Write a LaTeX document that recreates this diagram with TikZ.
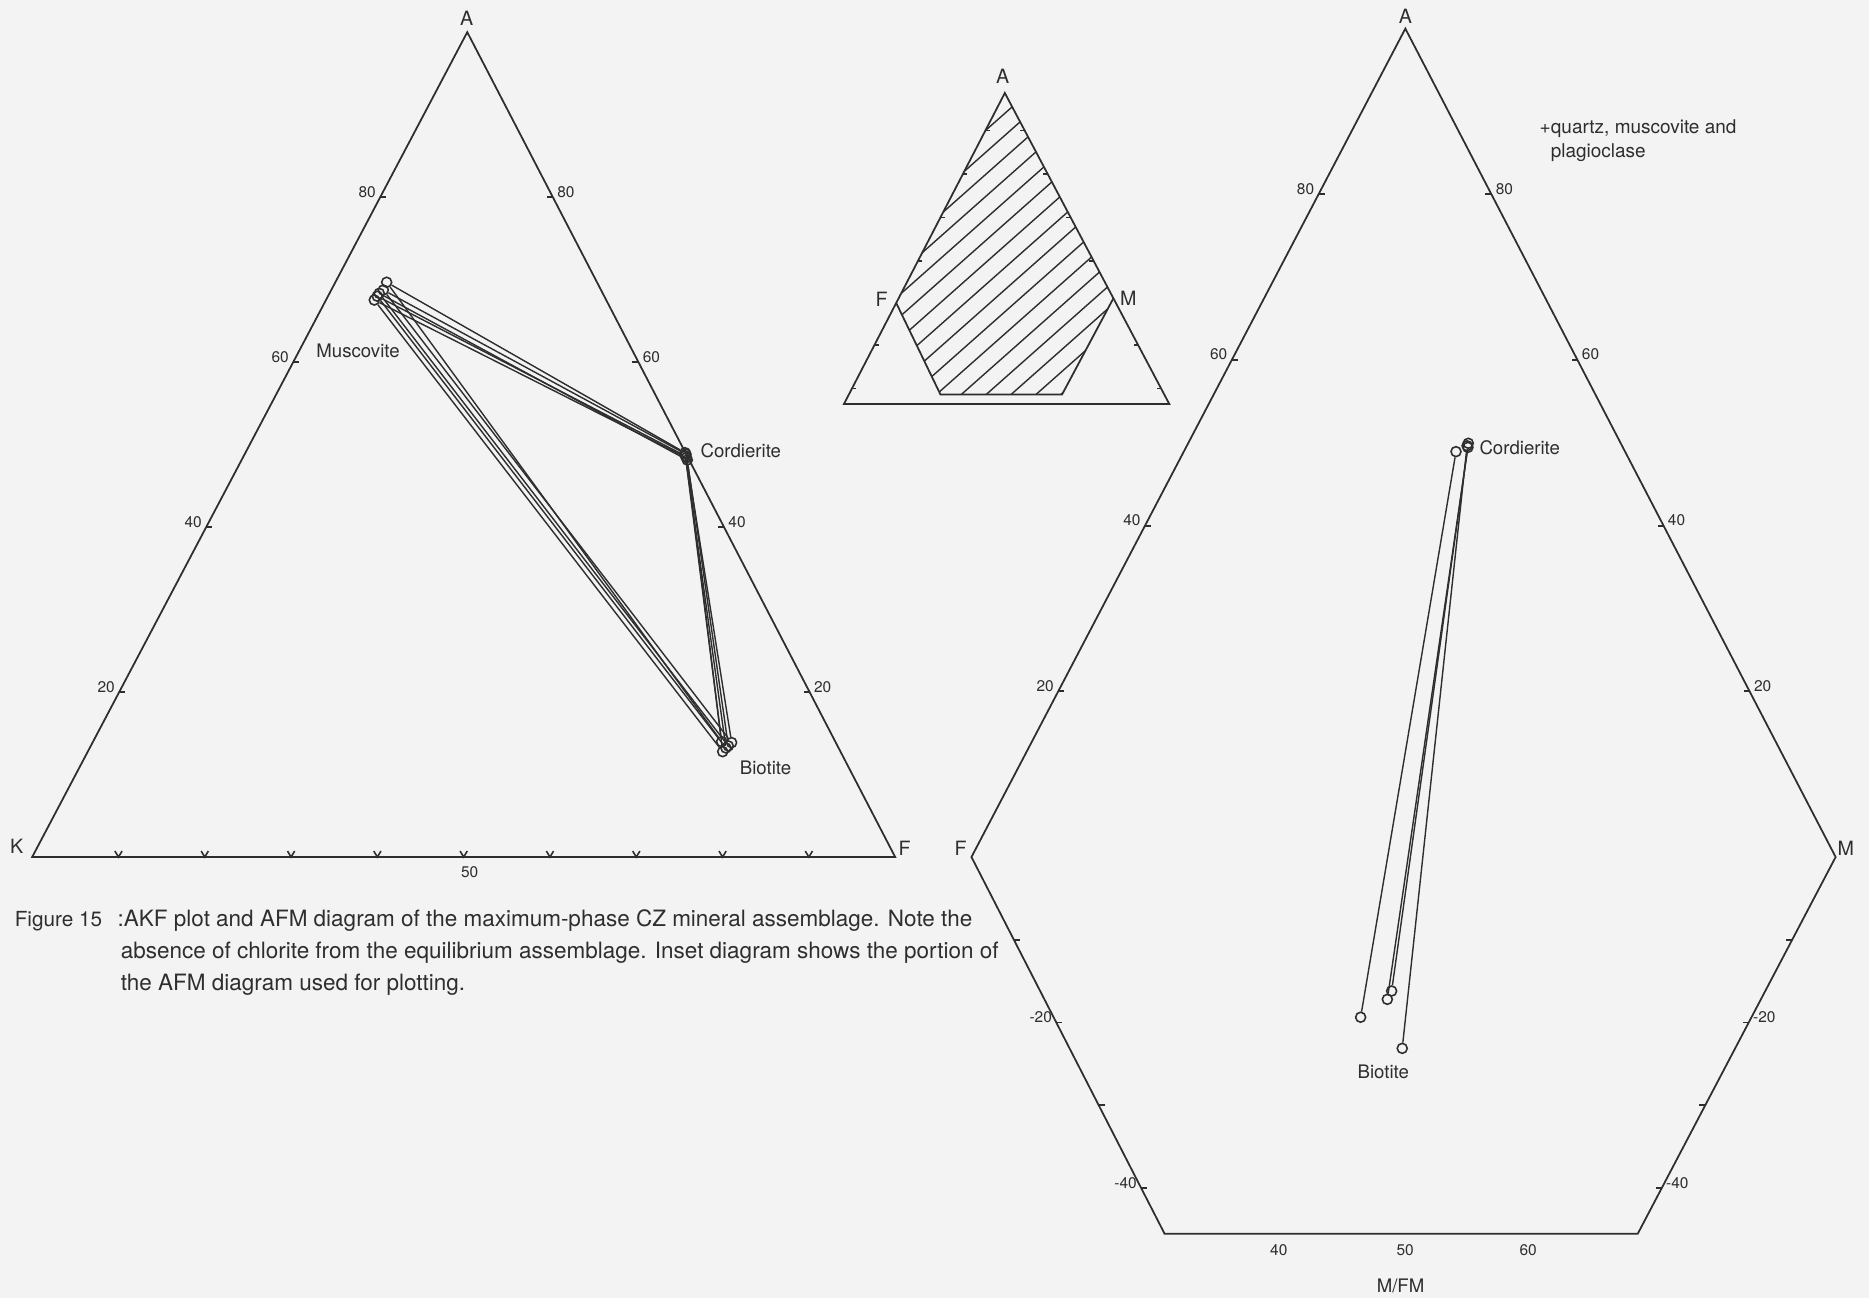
\documentclass[tikz,border=0pt]{standalone}
\usepackage{fontspec}
\setmainfont{TeX Gyre Heros}
\usetikzlibrary{calc}
\definecolor{scangrey}{HTML}{F3F3F3}
\definecolor{inkgrey}{HTML}{2E2E2E}

\begin{document}
\begin{tikzpicture}[x=0.1192mm, y=-0.1192mm, color=inkgrey, line width=.5pt,
          vtx/.style={font=\fontsize{5.6}{6}\selectfont, inner sep=0pt},
          num/.style={font=\fontsize{4.4}{5}\selectfont, inner sep=0pt},
          mineral/.style={font=\fontsize{5.3}{6}\selectfont, inner sep=0pt},
          capline/.style={font=\fontsize{6.4}{9}\selectfont, inner sep=0pt, anchor=base west},
          pt/.style={circle, draw, inner sep=0pt, minimum size=1mm, line width=.45pt},
          tie/.style={line width=.4pt}]
  \path[use as bounding box, fill=scangrey] (0,0) rectangle (1568,1089);

  \coordinate (kA) at (392,27);
  \coordinate (kK) at (27,719);
  \coordinate (kF) at (751,719);
  \draw (kA) -- (kK) -- (kF) -- cycle;
  \node[vtx] (kAl) at (391.5,15) {A};
  \node[vtx] (kKl) at (14,710) {K};
  \node[vtx] (kFl) at (759,712) {F};
  \node[num] (kmid) at (394,732) {50};
  \foreach \t in {20,40,60,80} {
    \draw ($(kK)!\t/100!(kA)$) coordinate (kl\t) -- ++(5,0);
    \node[num, anchor=base east] at ($(kl\t)+(-3,0)$) {\t};
    \draw ($(kF)!\t/100!(kA)$) coordinate (kr\t) -- ++(-5,0);
    \node[num, anchor=base west] at ($(kr\t)+(3,0)$) {\t};
  }
  \foreach \i in {1,...,9}
    \draw[line width=.45pt] ($(kK)!\i/10!(kF)$) ++(-3,-5) -- ++(3,5) -- ++(3,-5);

  \foreach \mx/\my/\cx/\cy/\bx/\by [count=\i] in
      {324.4/236.8/574.7/379.8/605.4/622.2, 321.6/243.3/575.5/381/613.8/623,
       318.2/246.1/576.6/385.9/611/625.8, 314/251.7/576/384/606.3/630.6,
       316.5/248.5/575/382.5/609/627.5} {
    \node[pt] (mu\i) at (\mx,\my) {};
    \node[pt] (cd\i) at (\cx,\cy) {};
    \node[pt] (bt\i) at (\bx,\by) {};
    \draw[tie] (mu\i) -- (cd\i) -- (bt\i) -- (mu\i);
  }
  \node[mineral, anchor=east] (mus) at (336,294) {Muscovite};
  \node[mineral, anchor=west] (crd) at (587,378.5) {Cordierite};
  \node[mineral, anchor=west] (bio) at (620,644.5) {Biotite};

  \coordinate (iA) at (843,78);
  \coordinate (iL) at (708,339);
  \coordinate (iR) at (981,339);
  \coordinate (iF) at ($(iL)!0.325!(iA)$);
  \coordinate (iM) at ($(iR)!0.34!(iA)$);
  \coordinate (iB1) at (789,331);
  \coordinate (iB2) at (891,331);
  \begin{scope}
    \clip (iA) -- (iF) -- (iB1) -- (iB2) -- (iM) -- cycle;
    \foreach \c in {842,860.5,...,1120}
      \draw[tie] (700,{\c-0.886*700}) -- (1000,{\c-0.886*1000});
  \end{scope}
  \draw (iA) -- (iL) -- (iR) -- cycle;
  \draw (iF) -- (iB1) -- (iB2) -- (iM);
  \foreach \f in {0.05,0.19,0.46,0.6,0.74,0.88} {
    \draw[line width=.45pt] ($(iL)!\f!(iA)$) -- ++(3.5,0);
    \draw[line width=.45pt] ($(iR)!\f!(iA)$) -- ++(-3.5,0);
  }
  \node[vtx] (iAl) at (841.2,64) {A};
  \node[vtx] (iFl) at (739.6,251) {F};
  \node[vtx] (iMl) at (946.6,250.3) {M};

  \coordinate (aA) at (1179,24);
  \coordinate (aF) at (815,719);
  \coordinate (aM) at (1540,719);
  \coordinate (aBL) at (977,1035);
  \coordinate (aBR) at (1374,1035);
  \draw (aA) -- (aF) -- (aBL) -- (aBR) -- (aM) -- cycle;
  \node[vtx] (aAl) at (1179,14) {A};
  \node[vtx] (aFl) at (806,712) {F};
  \node[vtx] (aMl) at (1548.5,712) {M};
  \foreach \t in {20,40,60,80} {
    \draw ($(aF)!\t/100!(aA)$) coordinate (al\t) -- ++(5,0);
    \node[num, anchor=base east] at ($(al\t)+(-3,0)$) {\t};
    \draw ($(aM)!\t/100!(aA)$) coordinate (ar\t) -- ++(-5,0);
    \node[num, anchor=base west] at ($(ar\t)+(3,0)$) {\t};
  }
  \foreach \t in {10,20,30,40} {
    \draw ($(aF)!\t/45.5!(aBL)$) -- ++(5,0);
    \draw ($(aM)!\t/45.5!(aBR)$) -- ++(-5,0);
  }
  \foreach \t in {20,40} {
    \node[num, anchor=base east] at ($(aF)!\t/45.5!(aBL)+(-3,0)$) {-\t};
    \node[num, anchor=base west] at ($(aM)!\t/45.5!(aBR)+(3,0)$) {-\t};
  }
  \foreach \v/\x in {40/1072.8,50/1178.9,60/1282}
    \node[num] at (\x,1049) {\v};
  \node[mineral] (mfm) at (1175,1078.5) {M/FM};
  \node[mineral, anchor=north west, align=left, font=\fontsize{5.4}{6.6}\selectfont]
    (assem) at (1291,100) {+quartz, muscovite and\\\phantom{+}plagioclase};

  \foreach \bx/\by/\cx/\cy [count=\i] in
      {1141.5/853.4/1221.5/378.9, 1163.9/838.4/1231.5/375.3,
       1167.5/831.4/1231.8/371.9, 1176.4/879.5/1230.8/374} {
    \node[pt] (fb\i) at (\bx,\by) {};
    \node[pt] (fc\i) at (\cx,\cy) {};
    \draw[tie] (fb\i) -- (fc\i);
  }
  \node[mineral, anchor=west] (crd2) at (1240.5,376) {Cordierite};
  \node[mineral] (bio2) at (1160.5,899) {Biotite};

  \node[capline, font=\fontsize{5.9}{9}\selectfont] (fignum) at (11.7,777) {Figure 15};
  \node[capline] (cap1) at (98,777) {:AKF plot and AFM diagram of the maximum-phase CZ mineral assemblage. Note the};
  \node[capline] (cap2) at (100.6,804.5) {absence of chlorite from the equilibrium assemblage. Inset diagram shows the portion of};
  \node[capline] (cap3) at (100.6,831) {the AFM diagram used for plotting.};
\end{tikzpicture}
\end{document}
